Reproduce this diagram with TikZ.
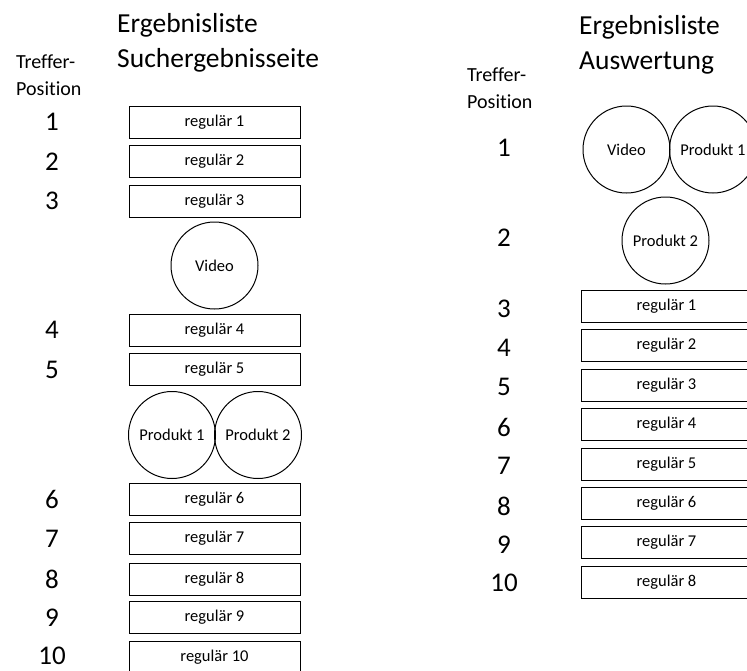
\documentclass[tikz,border=0pt]{standalone}
\usepackage{fontspec}
\setmainfont[Ligatures=NoCommon]{Carlito}
\begin{document}
\begin{tikzpicture}[x=1pt,y=-1pt,
  box/.style={draw,line width=1pt,minimum width=171pt,minimum height=32pt,inner sep=0pt,font=\fontsize{16.5}{18}\selectfont},
  circ/.style={draw,line width=1pt,circle,minimum size=87pt,inner sep=0pt,font=\fontsize{16.5}{18}\selectfont},
  num/.style={inner sep=0pt,font=\fontsize{27}{30}\selectfont},
  title/.style={anchor=west,inner sep=0pt,align=left,font=\fontsize{27.5}{35}\selectfont},
  head/.style={anchor=west,inner sep=0pt,align=left,font=\fontsize{20}{27}\selectfont}]
\useasboundingbox (0,0) rectangle (747,670);
% left column
\node[title] (t1) at (117,42.5) {Ergebnisliste\\Suchergebnisseite};
\node[head] (h1) at (16,75) {Treffer-\\Position};
\foreach \n/\y in {1/122,2/161.5,3/201,4/330,5/369.5,6/499.5,7/538.5,8/579,9/617.5,10/655.5}{
  \node[num] (ln\n) at (52,\y) {\n};
}
\foreach \n/\y in {1/122,2/161.5,3/201,4/330,5/369.5,6/499.5,7/538.5,8/579,9/617.5,10/657}{
  \node[box] (lb\n) at (214.5,\y) {regulär \n};
}
\node[circ] (lvideo) at (214.5,265.5) {Video};
\node[circ] (lp1) at (172,435) {Produkt 1};
\node[circ] (lp2) at (258,435) {Produkt 2};
% right column
\node[title] (t2) at (579,44.5) {Ergebnisliste\\Auswertung};
\node[head] (h2) at (467,88) {Treffer-\\Position};
\foreach \n/\y in {1/148,2/238,3/309,4/348,5/387,6/427,7/466,8/506,9/545,10/583}{
  \node[num] (rn\n) at (504,\y) {\n};
}
\foreach \n/\y in {1/306.5,2/345.5,3/385.5,4/424.5,5/464,6/503.5,7/542.5,8/582}{
  \node[box] (rb\n) at (666.5,\y) {regulär \n};
}
\node[circ] (rvideo) at (626.5,149.5) {Video};
\node[circ] (rp1) at (713,149.5) {Produkt 1};
\node[circ] (rp2) at (665.5,240.5) {Produkt 2};
\end{tikzpicture}
\end{document}
